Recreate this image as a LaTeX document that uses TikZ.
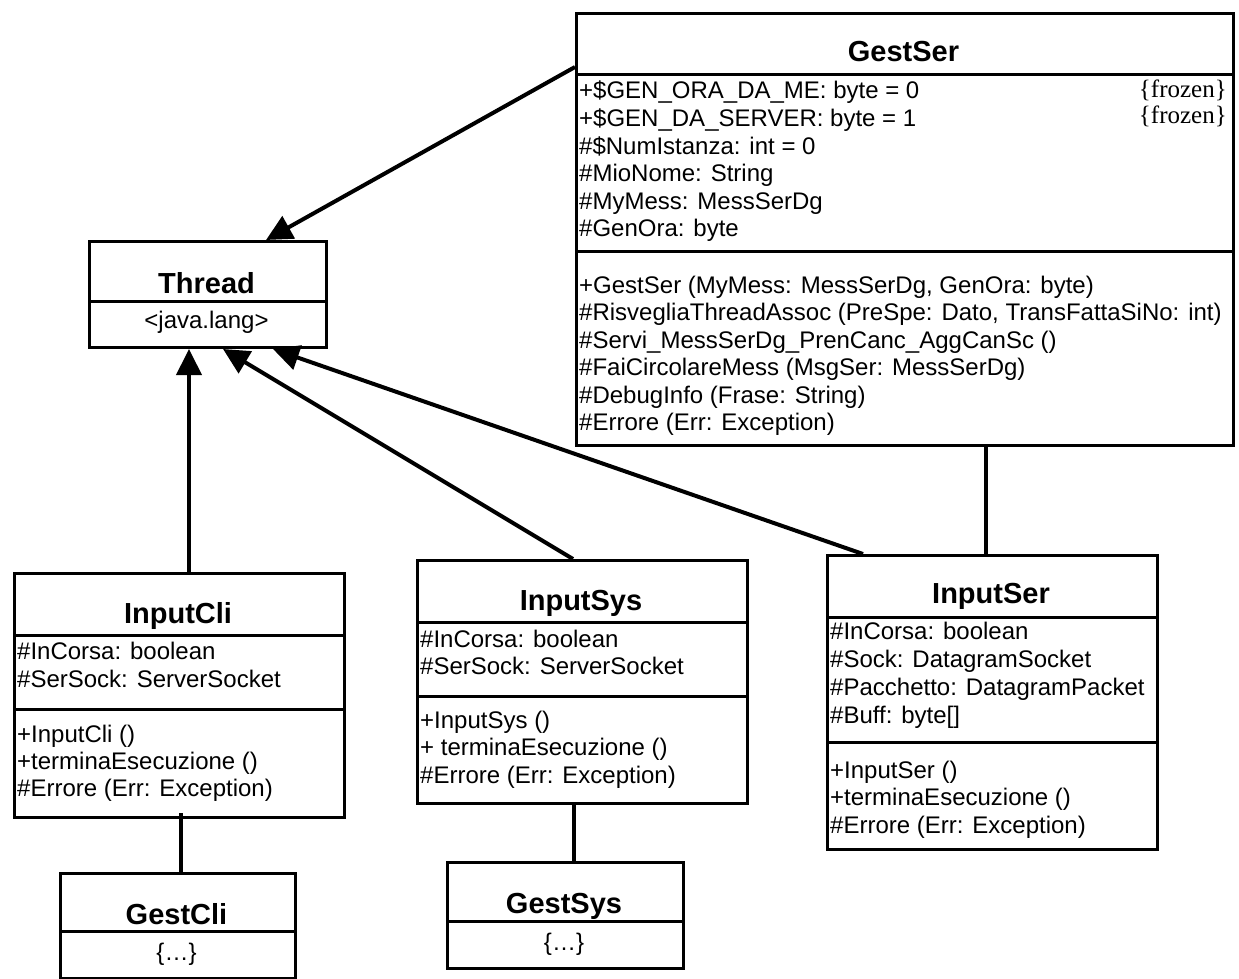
\documentclass[tikz,border=0pt]{standalone}
\usepackage{fontspec}
\setmainfont{Liberation Sans}
\newfontfamily\serifface{Liberation Serif}
\usetikzlibrary{arrows.meta,calc}
\begin{document}
\begin{tikzpicture}[x=1pt,y=-1pt,
  cls/.style={draw, line width=3pt, inner sep=0pt, anchor=north west},
  div/.style={line width=3pt},
  title/.style={anchor=base, inner sep=0pt, font=\fontsize{29}{32}\selectfont\bfseries},
  mem/.style={anchor=base west, inner sep=0pt, font=\fontsize{24}{27}\selectfont},
  cen/.style={anchor=base, inner sep=0pt, font=\fontsize{24}{27}\selectfont},
  note/.style={anchor=base east, inner sep=0pt, font=\fontsize{25}{28}\selectfont\serifface},
  inh/.style={line width=4pt, -{Triangle[length=26pt,width=25pt]}},
  assoc/.style={line width=4pt},
]
\useasboundingbox[fill=white] (0,0) rectangle (1239,979);

% ---------- GestSer ----------
\node[cls, minimum width=657pt, minimum height=432pt] (gestser) at (575,12) {};
\draw[div] ([yshift=-63pt]gestser.north west) -- ([yshift=-63pt]gestser.north east);
\draw[div] ([yshift=-239pt]gestser.north west) -- ([yshift=-239pt]gestser.north east);
\node[title] (gestser-t) at (903.5,62) {GestSer};
\foreach \s [count=\i from 0] in {
  {+\$GEN\_ORA\_DA\_ME: byte = 0},
  {+\$GEN\_DA\_SERVER: byte = 1},
  {\#\$NumIstanza: int = 0},
  {\#MioNome: String},
  {\#MyMess: MessSerDg},
  {\#GenOra: byte}}
  \node[mem] (gestser-a\i) at (579,{99+27.5*\i}) {\s};
\node[note] (gestser-f1) at (1227,98) {\{frozen\}};
\node[note] (gestser-f2) at (1227,124) {\{frozen\}};
\foreach \s [count=\i from 0] in {
  {+GestSer (MyMess: MessSerDg, GenOra: byte)},
  {\#RisvegliaThreadAssoc (PreSpe: Dato, TransFattaSiNo: int)},
  {\#Servi\_MessSerDg\_PrenCanc\_AggCanSc ()},
  {\#FaiCircolareMess (MsgSer: MessSerDg)},
  {\#DebugInfo (Frase: String)},
  {\#Errore (Err: Exception)}}
  \node[mem] (gestser-o\i) at (579,{293+27.5*\i}) {\s};

% ---------- Thread ----------
\node[cls, minimum width=237pt, minimum height=106pt] (thread) at (88,240) {};
\draw[div] ([yshift=-61pt]thread.north west) -- ([yshift=-61pt]thread.north east);
\node[title] (thread-t) at (206.5,293) {Thread};
\node[cen] (thread-p) at (206.5,328) {\textless java.lang\textgreater};

% ---------- InputCli ----------
\node[cls, minimum width=330pt, minimum height=244pt] (inputcli) at (13,572) {};
\draw[div] ([yshift=-63pt]inputcli.north west) -- ([yshift=-63pt]inputcli.north east);
\draw[div] ([yshift=-137pt]inputcli.north west) -- ([yshift=-137pt]inputcli.north east);
\node[title] (inputcli-t) at (178,623) {InputCli};
\foreach \s [count=\i from 0] in {
  {\#InCorsa: boolean},
  {\#SerSock: ServerSocket}}
  \node[mem] (inputcli-a\i) at (17,{659+28*\i}) {\s};
\foreach \s [count=\i from 0] in {
  {+InputCli ()},
  {+terminaEsecuzione ()},
  {\#Errore (Err: Exception)}}
  \node[mem] (inputcli-o\i) at (17,{742+27*\i}) {\s};

% ---------- GestCli ----------
\node[cls, minimum width=235pt, minimum height=105pt] (gestcli) at (59,872) {};
\draw[div] ([yshift=-59pt]gestcli.north west) -- ([yshift=-59pt]gestcli.north east);
\node[title] (gestcli-t) at (176.5,924) {GestCli};
\node[cen] (gestcli-b) at (176.5,960) {\{…\}};

% ---------- InputSys ----------
\node[cls, minimum width=330pt, minimum height=243pt] (inputsys) at (416,559) {};
\draw[div] ([yshift=-63pt]inputsys.north west) -- ([yshift=-63pt]inputsys.north east);
\draw[div] ([yshift=-137pt]inputsys.north west) -- ([yshift=-137pt]inputsys.north east);
\node[title] (inputsys-t) at (581,610) {InputSys};
\foreach \s [count=\i from 0] in {
  {\#InCorsa: boolean},
  {\#SerSock: ServerSocket}}
  \node[mem] (inputsys-a\i) at (420,{647+27.5*\i}) {\s};
\foreach \s [count=\i from 0] in {
  {+InputSys ()},
  {+ terminaEsecuzione ()},
  {\#Errore (Err: Exception)}}
  \node[mem] (inputsys-o\i) at (420,{728+27.5*\i}) {\s};

% ---------- GestSys ----------
\node[cls, minimum width=236pt, minimum height=106pt] (gestsys) at (446,861) {};
\draw[div] ([yshift=-60pt]gestsys.north west) -- ([yshift=-60pt]gestsys.north east);
\node[title] (gestsys-t) at (564,913) {GestSys};
\node[cen] (gestsys-b) at (564,950) {\{…\}};

% ---------- InputSer ----------
\node[cls, minimum width=330pt, minimum height=294pt] (inputser) at (826,554) {};
\draw[div] ([yshift=-63pt]inputser.north west) -- ([yshift=-63pt]inputser.north east);
\draw[div] ([yshift=-188pt]inputser.north west) -- ([yshift=-188pt]inputser.north east);
\node[title] (inputser-t) at (991,603) {InputSer};
\foreach \s [count=\i from 0] in {
  {\#InCorsa: boolean},
  {\#Sock: DatagramSocket},
  {\#Pacchetto: DatagramPacket},
  {\#Buff: byte[]}}
  \node[mem] (inputser-a\i) at (830,{639+28*\i}) {\s};
\foreach \s [count=\i from 0] in {
  {+InputSer ()},
  {+terminaEsecuzione ()},
  {\#Errore (Err: Exception)}}
  \node[mem] (inputser-o\i) at (830,{778+27.5*\i}) {\s};

% ---------- generalisations towards Thread ----------
\coordinate (gs-out) at ($(gestser.north west)+(0,55)$);
\coordinate (th-in-top) at ($(thread.north west)+(178,0)$);
\draw[inh] (gs-out) -- (th-in-top);

\coordinate (ic-out) at ($(inputcli.north west)+(176,0)$);
\draw[inh] (ic-out) -- (ic-out |- thread.south);

\coordinate (is-out) at ($(inputsys.north west)+(157,0)$);
\coordinate (th-in-sys) at ($(thread.south west)+(135,0)$);
\draw[inh] (is-out) -- (th-in-sys);

\coordinate (ir-out) at ($(inputser.north west)+(37,0)$);
\coordinate (th-in-ser) at ($(thread.south west)+(185,0)$);
\draw[inh] (ir-out) -- (th-in-ser);

% ---------- plain associations ----------
\coordinate (gs-low) at ($(gestser.south west)+(411,0)$);
\draw[assoc] (gs-low) -- (gs-low |- inputser.north);

\coordinate (ic-low) at ($(inputcli.south west)+(168,-6)$);
\draw[assoc] (ic-low) -- (ic-low |- gestcli.north);

\coordinate (is-low) at ($(inputsys.south west)+(158,-2)$);
\draw[assoc] (is-low) -- (is-low |- gestsys.north);
\end{tikzpicture}
\end{document}
